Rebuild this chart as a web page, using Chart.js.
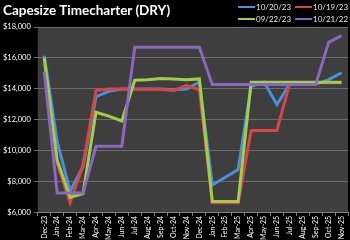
<!DOCTYPE html>
<html>
<head>
<meta charset="utf-8">
<script src="https://cdn.jsdelivr.net/npm/chart.js@4"></script>
<style>
  html, body { margin: 0; padding: 0; background: #000; }
  #wrap { position: relative; width: 350px; height: 240px; }
  #title { position: absolute; left: 3px; top: 2px; color: #fff; font: bold 13.5px Lato, sans-serif; }
  #legend { position: absolute; left: 238px; top: 2px; display: grid; grid-template-columns: 57px 57px; row-gap: 2px;
            color: #e8e8e8; font: 8px Lato, sans-serif; }
  #legend span.item { display: flex; align-items: center; }
  #legend i { display: inline-block; width: 17px; height: 2px; margin-right: 1px; }
</style>
</head>
<body>
<div id="wrap">
  <canvas id="chart" width="350" height="240"></canvas>
  <div id="title">Capesize Timecharter (DRY)</div>
  <div id="legend"></div>
</div>
<script>
const months = ['Dec-23','Jan-24','Feb-24','Mar-24','Apr-24','May-24','Jun-24','Jul-24','Aug-24','Sep-24','Oct-24','Nov-24',
                'Dec-24','Jan-25','Feb-25','Mar-25','Apr-25','May-25','Jun-25','Jul-25','Aug-25','Sep-25','Oct-25','Nov-25'];

const oct20 = [16150, 10600, 7400, 9000, 13500, 13850, 14000, 14000, 14000, 14000, 13950, 14000,
               14450, 7800, 8300, 8800, 14150, 14450, 13000, 14350, 14300, 14300, 14600, 15050];
const oct19 = [15900, 9200, 6650, 9100, 13900, 14000, 14000, 13980, 13980, 13980, 13900, 14220,
               13950, 6650, 6650, 6650, 11320, 11320, 11320, 14390, 14400, 14400, 14400, 14400];
const sep22 = [16000, 9400, 7000, 7250, 12500, 12250, 11930, 14560, 14600, 14670, 14650, 14600,
               14650, 6740, 6740, 6740, 14430, 14430, 14430, 14430, 14430, 14430, 14430, 14430];
const oct21y = [15100, 7280, 7280, 7280, 10300, 10300, 10300, 16700, 16700, 16700, 16700, 16700,
                16700, 14280, 14280, 14280, 14280, 14280, 14280, 14280, 14280, 14280, 17010, 17440];

const seriesNames = ['10/20/23', '10/19/23', '09/22/23', '10/21/22'];
const seriesColors = ['#4a8fdc', '#d94545', '#9fcf47', '#8b68c0'];
const seriesData = [oct20, oct19, sep22, oct21y];

// legend: blue, red / green, purple
const legend = document.getElementById('legend');
seriesNames.forEach(function(name, i) {
    const s = document.createElement('span');
    s.className = 'item';
    s.innerHTML = '<i style="background:' + seriesColors[i] + '"></i>' + name;
    legend.appendChild(s);
});

const plotBg = {
    id: 'plotBg',
    beforeDraw: function(chart) {
        const a = chart.chartArea, ctx = chart.ctx;
        ctx.save();
        ctx.fillStyle = '#3e3e3e';
        ctx.fillRect(a.left, a.top, a.right - a.left, a.bottom - a.top);
        ctx.restore();
    }
};

new Chart(document.getElementById('chart').getContext('2d'), {
    type: 'line',
    data: {
        labels: months,
        datasets: seriesData.map(function(d, i) {
            return {
                label: seriesNames[i],
                data: d,
                borderColor: seriesColors[i],
                borderWidth: 3,
                pointRadius: 0,
                tension: 0,
                order: 3 - i
            };
        })
    },
    options: {
        responsive: false,
        animation: false,
        layout: { padding: { top: 27, right: 1, left: 0, bottom: 0 } },
        plugins: { legend: { display: false }, tooltip: { enabled: false } },
        scales: {
            x: {
                offset: true,
                grid: { offset: true, drawOnChartArea: false, color: '#808080', tickLength: 3 },
                border: { color: '#808080' },
                ticks: { color: '#fff', font: { family: 'Lato', size: 7 }, minRotation: 90, maxRotation: 90, autoSkip: false, padding: 0 }
            },
            y: {
                min: 6000, max: 18000,
                grid: { color: '#6c6c6c', tickLength: 4 },
                border: { display: false },
                ticks: {
                    stepSize: 2000, color: '#fff', font: { family: 'Lato', size: 7.5 }, padding: 3,
                    callback: function(v) { return '$' + v.toLocaleString('en-US'); }
                }
            }
        }
    },
    plugins: [plotBg]
});
</script>
</body>
</html>
